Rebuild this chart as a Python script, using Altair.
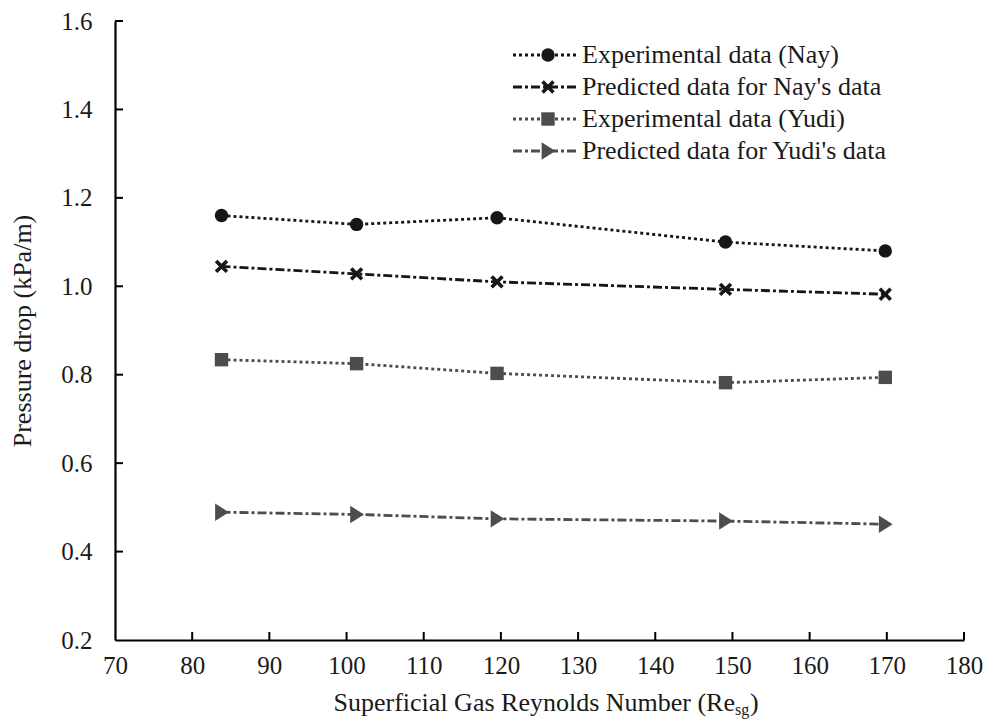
import altair as alt
import pandas as pd

# ---- data ----
re_values = [83.8, 101.3, 119.5, 149.1, 169.8]
exp_nay = [1.16, 1.14, 1.155, 1.10, 1.08]
pred_nay = [1.045, 1.028, 1.01, 0.993, 0.982]
exp_yudi = [0.834, 0.825, 0.803, 0.782, 0.794]
pred_yudi = [0.489, 0.484, 0.474, 0.469, 0.462]

series_names = [
    "Experimental data (Nay)",
    "Predicted data for Nay's data",
    "Experimental data (Yudi)",
    "Predicted data for Yudi's data",
]
marker_keys = ["m1", "m2", "m3", "m4"]
series_values = [exp_nay, pred_nay, exp_yudi, pred_yudi]

x_ticks = [70, 80, 90, 100, 110, 120, 130, 140, 150, 160, 170, 180]
y_ticks = [0.2, 0.4, 0.6, 0.8, 1.0, 1.2, 1.4, 1.6]

x_title = "Superficial Gas Reynolds Number (Re"
x_title_sub = "sg"
x_title_end = ")"
y_title = "Pressure drop (kPa/m)"

# ---- styles ----
FONT = "Liberation Serif"
TXT = "#1a1a1a"
colors = ["#161616", "#161616", "#4d4d4d", "#4d4d4d"]
dashes = [[3, 3], [9, 3, 3, 3], [3, 3], [9, 3, 3, 3]]
X_PATH = "M-1,-0.62L-0.62,-1L0,-0.38L0.62,-1L1,-0.62L0.38,0L1,0.62L0.62,1L0,0.38L-0.62,1L-1,0.62L-0.38,0Z"
TRI_PATH = "M-0.95,-1.3L1.1,0L-0.95,1.3Z"
shapes = ["circle", X_PATH, "square", TRI_PATH]

rows = []
for name, key, vals in zip(series_names, marker_keys, series_values):
    for r, v in zip(re_values, vals):
        rows.append({"series": name, "marker": key, "re": r, "dp": v})
df = pd.DataFrame(rows)

W, H = 849, 619

xscale = alt.Scale(domain=[70, 180], nice=False, zero=False)
yscale = alt.Scale(domain=[0.2, 1.6], nice=False, zero=False)

xenc = alt.X(
    "re:Q",
    scale=xscale,
    axis=alt.Axis(
        values=x_ticks, title=None, tickSize=0, grid=False,
        domainColor="black", domainWidth=2.2,
        labelFont=FONT, labelFontSize=25, labelColor=TXT, labelPadding=13,
        labelFlush=False,
    ),
)
yenc = alt.Y(
    "dp:Q",
    scale=yscale,
    axis=alt.Axis(
        values=y_ticks, format=".1f", title=y_title, tickSize=0, grid=False,
        domainColor="black", domainWidth=2.2,
        labelFont=FONT, labelFontSize=25, labelColor=TXT, labelPadding=23,
        labelFlush=False,
        titleFont=FONT, titleFontSize=26, titleFontWeight="normal", titleColor=TXT,
        titleX=-93, titleBaseline="middle",
    ),
)

legA = alt.Legend(
    orient="none", legendX=417, legendY=21, title=None,
    symbolType="M-4,0H4", symbolSize=256, symbolStrokeWidth=2.8,
    labelFont=FONT, labelFontSize=26, labelColor=TXT, labelOffset=24, labelLimit=500,
    rowPadding=6, padding=0,
)
legB = alt.Legend(
    orient="none", legendX=420, legendY=21, title=None,
    symbolSize=180, labelExpr="''", labelFontSize=26, labelFont=FONT,
    rowPadding=6, padding=0, symbolStrokeWidth=0,
)

lines = alt.Chart(df).mark_line(strokeWidth=2.8).encode(
    x=xenc, y=yenc,
    color=alt.Color("series:N", scale=alt.Scale(domain=series_names, range=colors), legend=legA),
    strokeDash=alt.StrokeDash("series:N", scale=alt.Scale(domain=series_names, range=dashes), legend=legA),
    order="re:Q",
)

points = alt.Chart(df).mark_point(filled=True, size=180, opacity=1, strokeWidth=0).encode(
    x=xenc, y=yenc,
    fill=alt.Fill("marker:N", scale=alt.Scale(domain=marker_keys, range=colors), legend=legB),
    shape=alt.Shape("marker:N", scale=alt.Scale(domain=marker_keys, range=shapes), legend=legB),
)

xt = pd.DataFrame({"re": x_ticks[1:]})
x_tick_marks = alt.Chart(xt).mark_rule(color="black", strokeWidth=2).encode(
    x=xenc, y=alt.value(H), y2=alt.value(H - 8)
)
yt = pd.DataFrame({"dp": y_ticks[1:]})
y_tick_marks = alt.Chart(yt).mark_rule(color="black", strokeWidth=2).encode(
    y=yenc, x=alt.value(0), x2=alt.value(8)
)

t1 = alt.Chart(pd.DataFrame({"s": [x_title]})).mark_text(
    font=FONT, fontSize=26, align="right", baseline="middle", color=TXT
).encode(text="s:N", x=alt.value(620), y=alt.value(682))
t2 = alt.Chart(pd.DataFrame({"s": [x_title_sub]})).mark_text(
    font=FONT, fontSize=16, align="left", baseline="middle", color=TXT
).encode(text="s:N", x=alt.value(620), y=alt.value(689))
t3 = alt.Chart(pd.DataFrame({"s": [x_title_end]})).mark_text(
    font=FONT, fontSize=26, align="left", baseline="middle", color=TXT
).encode(text="s:N", x=alt.value(635), y=alt.value(682))

chart = alt.layer(lines, points, x_tick_marks, y_tick_marks, t1, t2, t3).properties(
    width=W, height=H,
    autosize=alt.AutoSizeParams(type="none"),
    padding={"left": 107, "top": 13, "right": 19, "bottom": 80},
).configure(background="white", font=FONT).configure_view(stroke=None).configure_axis(
    labelFont=FONT, titleFont=FONT
).configure_legend(labelFont=FONT).configure_text(font=FONT)

chart.save("out.html", embed_options={"renderer": "svg", "actions": False})
